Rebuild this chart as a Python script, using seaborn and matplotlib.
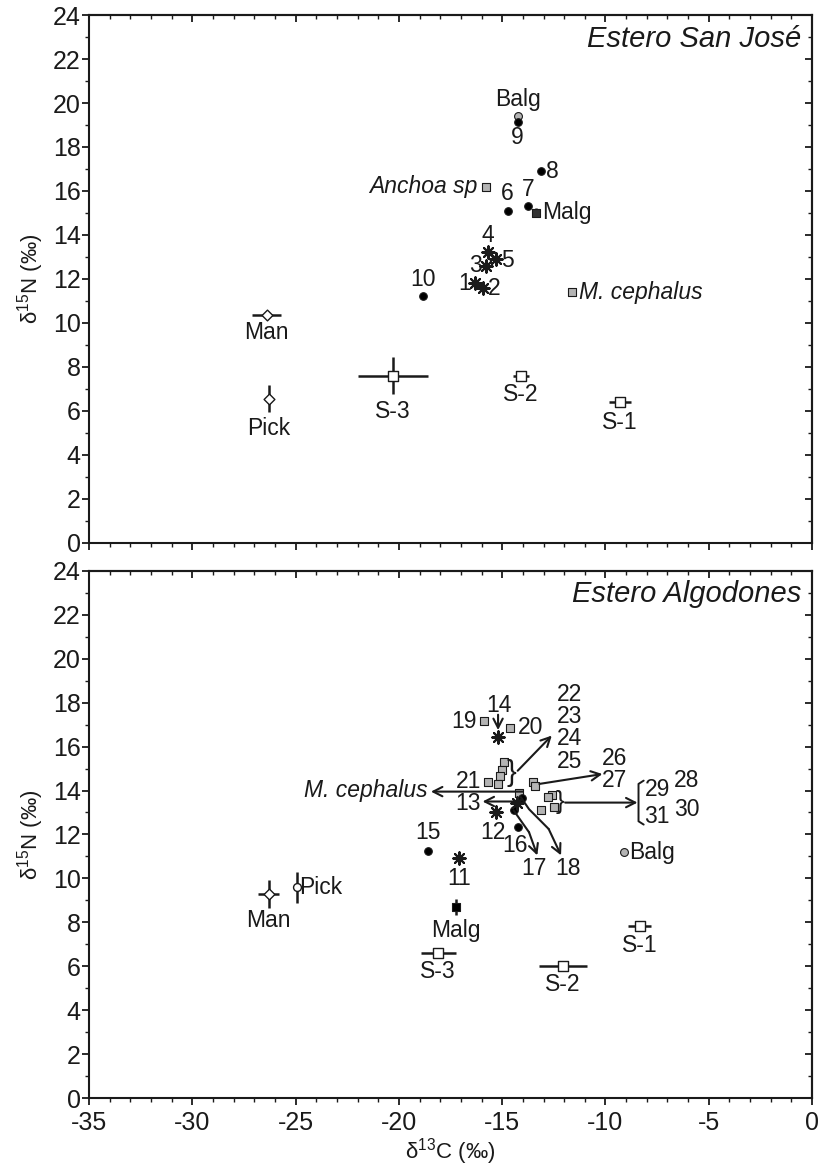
import matplotlib
matplotlib.use("Agg")
import matplotlib.pyplot as plt
import seaborn as sns
from matplotlib.ticker import MultipleLocator

# ---------------- data: Estero San José (top panel) ----------------
sj_fish_lab = ['6', '7', '8', '9', '10']
sj_fish_x = [-14.7, -13.75, -13.1, -14.25, -18.85]
sj_fish_y = [15.1, 15.3, 16.9, 19.15, 11.2]

sj_ast_lab = ['1', '2', '3', '4', '5']
sj_ast_x = [-16.3, -15.95, -15.8, -15.7, -15.3]
sj_ast_y = [11.8, 11.6, 12.6, 13.2, 12.9]

sj_grey_lab = ['Anchoa sp', 'M. cephalus']
sj_grey_x = [-15.8, -11.6]
sj_grey_y = [16.2, 11.4]

sj_balg_x, sj_balg_y = [-14.25], [19.4]
sj_malg_x, sj_malg_y, sj_malg_xerr, sj_malg_yerr = [-13.35], [15.0], [0.2], [0.2]

sj_src_lab = ['Man', 'Pick', 'S-3', 'S-2', 'S-1']
sj_src_x = [-26.4, -26.3, -20.3, -14.1, -9.3]
sj_src_y = [10.35, 6.55, 7.6, 7.6, 6.4]
sj_src_xerr = [0.7, 0.0, 1.7, 0.4, 0.55]
sj_src_yerr = [0.0, 0.6, 0.85, 0.1, 0.15]

# ---------------- data: Estero Algodones (bottom panel) ----------------
ea_fish_lab = ['15', '16', '17', '18']
ea_fish_x = [-18.6, -14.25, -14.45, -14.05]
ea_fish_y = [11.25, 12.35, 13.1, 13.65]

ea_ast_lab = ['11', '12', '13', '14']
ea_ast_x = [-17.1, -15.3, -14.3, -15.2]
ea_ast_y = [10.95, 13.0, 13.45, 16.45]

ea_grey_lab = ['19', '20', '21', '22', '23', '24', '25', '26', '27',
               '28', '29', '30', '31', 'M. cephalus']
ea_grey_x = [-15.9, -14.6, -15.7, -14.9, -15.0, -15.1, -15.2, -13.5, -13.4,
             -12.6, -12.8, -12.5, -13.1, -14.2]
ea_grey_y = [17.15, 16.85, 14.4, 15.3, 14.95, 14.65, 14.3, 14.4, 14.2,
             13.8, 13.7, 13.25, 13.1, 13.9]

ea_balg_x, ea_balg_y = [-9.1], [11.2]
ea_malg_x, ea_malg_y, ea_malg_xerr, ea_malg_yerr = [-17.25], [8.7], [0.0], [0.38]

ea_src_lab = ['Man', 'Pick', 'S-3', 'S-2', 'S-1']
ea_src_x = [-26.3, -24.95, -18.1, -12.05, -8.35]
ea_src_y = [9.3, 9.6, 6.6, 6.0, 7.85]
ea_src_xerr = [0.5, 0.0, 0.85, 1.15, 0.55]
ea_src_yerr = [0.65, 0.7, 0.12, 0.12, 0.2]

x_ticks = [-35, -30, -25, -20, -15, -10, -5, 0]
y_ticks = [0, 2, 4, 6, 8, 10, 12, 14, 16, 18, 20, 22, 24]

# ---------------- style ----------------
sns.set_theme(style="white")
plt.rcParams['font.family'] = ['Liberation Sans', 'DejaVu Sans']
plt.rcParams['mathtext.fontset'] = 'custom'
plt.rcParams['mathtext.rm'] = 'Liberation Sans'
plt.rcParams['mathtext.it'] = 'Liberation Sans:italic'
plt.rcParams['axes.unicode_minus'] = False

INK = '#1a1a1a'
GREY = '#b4b4b4'
FS = 16.5      # point labels
TFS = 18       # tick labels
fig = plt.figure(figsize=(8.29, 11.72), dpi=100)
ax_top = fig.add_axes([0.1075, 0.5371, 0.872, 0.450])
ax_bot = fig.add_axes([0.1075, 0.0630, 0.872, 0.450])


def style_axes(ax, show_xlabels):
    ax.set_xlim(-35, 0)
    ax.set_ylim(0, 24)
    ax.set_xticks(x_ticks)
    ax.set_yticks(y_ticks)
    ax.xaxis.set_minor_locator(MultipleLocator(1))
    ax.yaxis.set_minor_locator(MultipleLocator(1))
    for s in ax.spines.values():
        s.set_visible(True)
        s.set_linewidth(1.5)
        s.set_color(INK)
    ax.tick_params(which='major', direction='out', length=5, width=1.3,
                   labelsize=TFS, colors=INK, bottom=True, left=True)
    ax.tick_params(axis='x', which='major', pad=4)
    ax.tick_params(axis='y', which='major', pad=1)
    ax.tick_params(which='minor', direction='out', length=3, width=1.0,
                   bottom=True, left=True, colors=INK)
    if not show_xlabels:
        ax.tick_params(axis='x', labelbottom=False)
    sec_x = ax.secondary_xaxis('top')
    sec_x.set_xticks(x_ticks)
    sec_x.xaxis.set_minor_locator(MultipleLocator(1))
    sec_x.tick_params(which='major', direction='in', length=5, width=1.3,
                      labeltop=False, colors=INK)
    sec_x.tick_params(which='minor', direction='in', length=3, width=1.0, colors=INK)
    sec_x.spines['top'].set_linewidth(1.5)
    sec_y = ax.secondary_yaxis('right')
    sec_y.set_yticks(y_ticks)
    sec_y.yaxis.set_minor_locator(MultipleLocator(1))
    sec_y.tick_params(which='major', direction='in', length=5, width=1.3,
                      labelright=False, colors=INK)
    sec_y.tick_params(which='minor', direction='in', length=3, width=1.0, colors=INK)
    sec_y.spines['right'].set_linewidth(1.5)
    ax.set_ylabel('δ$^{15}$N (‰)', fontsize=16, labelpad=5, color=INK)


def pts(ax, x, y, marker, face, edge=INK, s=36, lw=0.8, z=4):
    kw = dict(x=x, y=y, s=s, ax=ax, zorder=z, legend=False)
    if marker == 'asterisk':
        sns.scatterplot(marker=(8, 2, 0), color=INK, linewidth=1.5, **kw)
    else:
        sns.scatterplot(marker=marker, color=face, edgecolor=edge, linewidth=lw, **kw)


def errs(ax, x, y, xerr, yerr):
    ax.errorbar(x, y, xerr=xerr, yerr=yerr, fmt='none', ecolor=INK,
                elinewidth=1.8, capsize=0, zorder=3)


def lab(ax, text, xy, dx=0, dy=0, ha='center', va='center', italic=False, fs=FS):
    ax.annotate(text, xy, xytext=(dx, dy), textcoords='offset points',
                ha=ha, va=va, fontsize=fs, color=INK,
                style='italic' if italic else 'normal', zorder=6)


def txt(ax, x, y, s, ha='center', va='center', fs=FS, **kw):
    ax.text(x, y, s, ha=ha, va=va, fontsize=fs, color=INK, zorder=6, **kw)


def arrow(ax, start, end):
    ax.annotate('', xy=end, xytext=start,
                arrowprops=dict(arrowstyle='->,head_length=0.55,head_width=0.28',
                                lw=1.5, color=INK, shrinkA=0, shrinkB=0),
                zorder=5)


# ================= TOP PANEL =================
ax = ax_top
style_axes(ax, False)
errs(ax, sj_src_x, sj_src_y, sj_src_xerr, sj_src_yerr)
errs(ax, sj_malg_x, sj_malg_y, sj_malg_xerr, sj_malg_yerr)
pts(ax, sj_src_x[:2], sj_src_y[:2], 'D', 'white', s=30, lw=1.0)
pts(ax, sj_src_x[2:], sj_src_y[2:], 's', 'white', s=55, lw=1.0)
pts(ax, sj_balg_x, sj_balg_y, 'o', GREY, s=32)
pts(ax, sj_fish_x, sj_fish_y, 'o', 'black', s=30)
pts(ax, sj_ast_x, sj_ast_y, 'asterisk', 'black', s=80)
pts(ax, sj_grey_x, sj_grey_y, 's', GREY, s=38)
pts(ax, sj_malg_x, sj_malg_y, 's', '#333333', s=34)

lab(ax, 'Balg', (sj_balg_x[0], sj_balg_y[0]), 0, 4, va='bottom')
lab(ax, '9', (sj_fish_x[3], sj_fish_y[3]), 0, -3, va='top')
lab(ax, '8', (sj_fish_x[2], sj_fish_y[2]), 3, 0, ha='left')
lab(ax, '6', (sj_fish_x[0], sj_fish_y[0]), -1, 4, va='bottom')
lab(ax, '7', (sj_fish_x[1], sj_fish_y[1]), 0, 4, va='bottom')
lab(ax, '10', (sj_fish_x[4], sj_fish_y[4]), 0, 4, va='bottom')
lab(ax, 'Malg', (sj_malg_x[0], sj_malg_y[0]), 4, 0, ha='left')
lab(ax, 'Anchoa sp', (sj_grey_x[0], sj_grey_y[0]), -6, 0, ha='right', italic=True)
lab(ax, 'M. cephalus', (sj_grey_x[1], sj_grey_y[1]), 5, 0, ha='left', italic=True)
lab(ax, '1', (sj_ast_x[0], sj_ast_y[0]), -3, 0, ha='right')
lab(ax, '2', (sj_ast_x[1], sj_ast_y[1]), 4, -1, ha='left')
lab(ax, '3', (sj_ast_x[2], sj_ast_y[2]), -3, 0, ha='right')
lab(ax, '4', (sj_ast_x[3], sj_ast_y[3]), 0, 4, va='bottom')
lab(ax, '5', (sj_ast_x[4], sj_ast_y[4]), 4, -1, ha='left')
for i, name in enumerate(sj_src_lab):
    lab(ax, name, (sj_src_x[i], sj_src_y[i] - sj_src_yerr[i]), 0, -4, va='top')
ax.text(0.985, 0.982, 'Estero San José', transform=ax.transAxes, ha='right',
        va='top', fontsize=21, style='italic', color=INK)

# ================= BOTTOM PANEL =================
ax = ax_bot
style_axes(ax, True)
ax.set_xlabel('δ$^{13}$C (‰)', fontsize=16, labelpad=1, color=INK)
errs(ax, ea_src_x, ea_src_y, ea_src_xerr, ea_src_yerr)
errs(ax, ea_malg_x, ea_malg_y, ea_malg_xerr, ea_malg_yerr)
pts(ax, ea_src_x[:1], ea_src_y[:1], 'D', 'white', s=30, lw=1.0)
pts(ax, ea_src_x[1:2], ea_src_y[1:2], 'o', 'white', s=32, lw=1.0)
pts(ax, ea_src_x[2:], ea_src_y[2:], 's', 'white', s=55, lw=1.0)
pts(ax, ea_balg_x, ea_balg_y, 'o', GREY, s=32)
pts(ax, ea_malg_x, ea_malg_y, 's', 'black', s=34)
pts(ax, ea_grey_x, ea_grey_y, 's', GREY, s=38)
pts(ax, ea_fish_x, ea_fish_y, 'o', 'black', s=30)
pts(ax, ea_ast_x, ea_ast_y, 'asterisk', 'black', s=80)

# simple labels
lab(ax, '19', (ea_grey_x[0], ea_grey_y[0]), -5, 0, ha='right')
lab(ax, '20', (ea_grey_x[1], ea_grey_y[1]), 5, 0, ha='left')
lab(ax, '21', (ea_grey_x[2], ea_grey_y[2]), -5, 0, ha='right')
lab(ax, '15', (ea_fish_x[0], ea_fish_y[0]), 0, 5, va='bottom')
lab(ax, '11', (ea_ast_x[0], ea_ast_y[0]), 0, -7, va='top')
lab(ax, '12', (ea_ast_x[1] - 0.15, ea_ast_y[1]), 0, -6, va='top')
lab(ax, '16', (ea_fish_x[1], ea_fish_y[1]), -2, -5, va='top')
lab(ax, 'Balg', (ea_balg_x[0], ea_balg_y[0]), 4, 0, ha='left')
lab(ax, 'Pick', (ea_src_x[1], ea_src_y[1]), 2, 0, ha='left')
lab(ax, 'Man', (ea_src_x[0], ea_src_y[0] - ea_src_yerr[0]), 0, -1, va='top')
lab(ax, 'Malg', (ea_malg_x[0], ea_malg_y[0] - ea_malg_yerr[0]), 0, -3, va='top')
for i in range(2, 5):
    lab(ax, ea_src_lab[i], (ea_src_x[i], ea_src_y[i] - ea_src_yerr[i]), 0, -3, va='top')

# 14 with arrow
txt(ax, -15.15, 17.85, '14')
arrow(ax, (-15.2, 17.45), (-15.2, 16.75))
# 22-25 bracket + arrow
txt(ax, -14.55, 14.8, '}', fs=21)
arrow(ax, (-14.25, 14.9), (-12.6, 16.5))
txt(ax, -11.75, 16.85, '22\n23\n24\n25', linespacing=0.95)
# 26-27
arrow(ax, (-13.2, 14.3), (-10.15, 14.75))
txt(ax, -9.55, 14.95, '26\n27', linespacing=0.95)
# M. cephalus
arrow(ax, (-14.0, 13.95), (-18.45, 13.95))
txt(ax, -18.6, 14.02, 'M. cephalus', ha='right', style='italic')
# 13
arrow(ax, (-14.3, 13.5), (-15.95, 13.5))
txt(ax, -16.05, 13.4, '13', ha='right')
# 17 & 18 polylines
ax.plot([-14.45, -13.7], [13.1, 12.1], color=INK, lw=1.5, zorder=5)
arrow(ax, (-13.7, 12.1), (-13.3, 11.05))
ax.plot([-14.1, -13.7, -12.75], [13.7, 13.15, 12.25], color=INK, lw=1.5, zorder=5)
arrow(ax, (-12.75, 12.25), (-12.15, 11.05))
txt(ax, -13.45, 10.45, '17')
txt(ax, -11.8, 10.45, '18')
# 28-31
txt(ax, -12.2, 13.5, '}', fs=19)
arrow(ax, (-11.95, 13.45), (-8.45, 13.45))
ax.plot([-8.15, -8.4, -8.4, -8.15], [14.45, 14.3, 12.6, 12.45], color=INK, lw=1.4, zorder=5)
txt(ax, -7.5, 14.05, '29')
txt(ax, -6.05, 14.45, '28')
txt(ax, -7.5, 12.8, '31')
txt(ax, -6.05, 13.15, '30')

ax.text(0.985, 0.982, 'Estero Algodones', transform=ax.transAxes, ha='right',
        va='top', fontsize=21, style='italic', color=INK)

fig.savefig('out.png', dpi=100)
